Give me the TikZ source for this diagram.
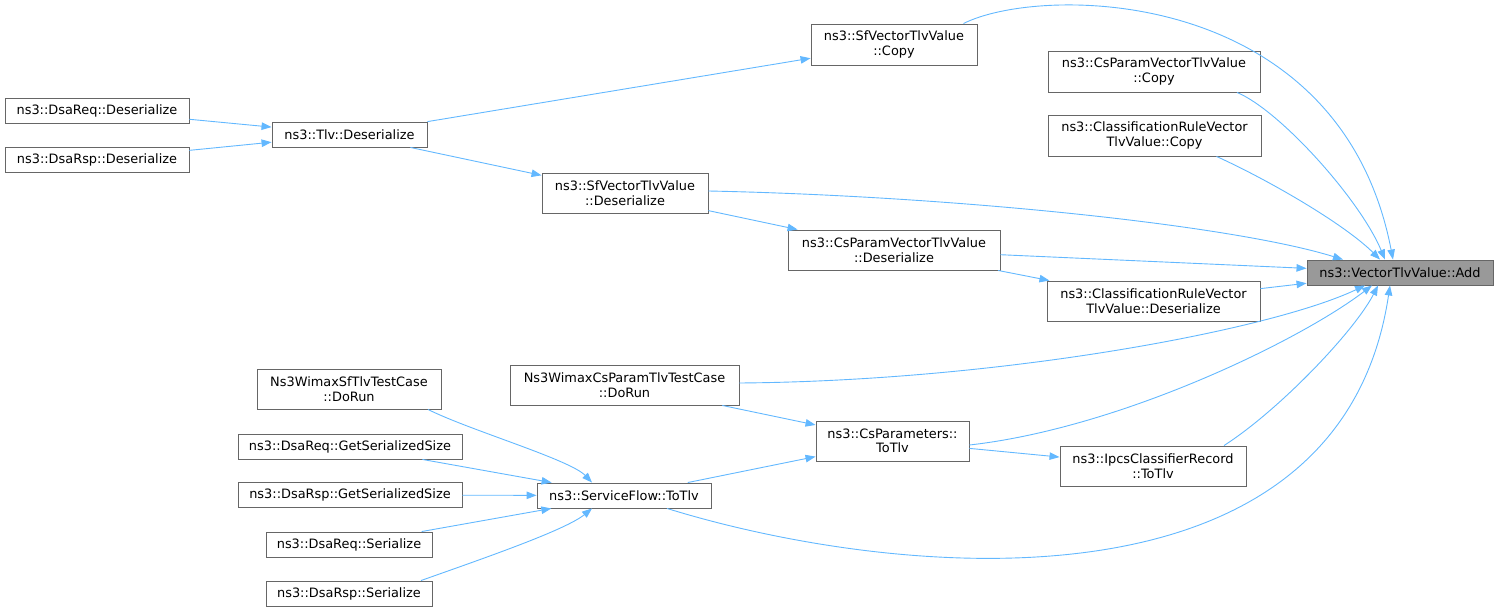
\documentclass[tikz,border=0pt]{standalone}
\usepackage{fontspec}
\setsansfont{DejaVu Sans}
\usepackage{tikz}
\usetikzlibrary{arrows.meta}
\definecolor{callblue}{RGB}{99,184,255}
\definecolor{framegray}{RGB}{102,102,102}
\definecolor{focusgray}{RGB}{153,153,153}
\tikzset{
  fn/.style={draw=framegray,line width=0.9pt,inner sep=0pt,align=center,
    font=\sffamily\fontsize{12.9}{14.5}\selectfont},
  one/.style={fn,minimum height=25pt},
  two/.style={fn,minimum height=40pt},
  call/.style={draw,color=callblue,line width=0.9pt,-{Triangle[length=10pt,width=7.5pt]}}
}

\begin{document}
\begin{tikzpicture}[x=1pt,y=-1pt]
  \useasboundingbox (0,0) rectangle (1497,612);
  % callers, left to right
  \node[one,minimum width=184pt] (reqdes) at (97,110.5) {ns3::DsaReq::Deserialize};
  \node[one,minimum width=184pt] (rspdes) at (97,159.5) {ns3::DsaRsp::Deserialize};
  \node[one,minimum width=155pt] (tlvdes) at (349.5,134.5) {ns3::Tlv::Deserialize};
  \node[two,minimum width=184pt] (sfrun) at (349,389) {Ns3WimaxSfTlvTestCase\\::DoRun};
  \node[one,minimum width=224pt] (reqsize) at (350,446.5) {ns3::DsaReq::GetSerializedSize};
  \node[one,minimum width=224pt] (rspsize) at (350,495) {ns3::DsaRsp::GetSerializedSize};
  \node[one,minimum width=166pt] (reqser) at (349,544.5) {ns3::DsaReq::Serialize};
  \node[one,minimum width=166pt] (rspser) at (349,593.5) {ns3::DsaRsp::Serialize};
  \node[two,minimum width=166pt] (sfdes) at (625,193) {ns3::SfVectorTlvValue\\::Deserialize};
  \node[two,minimum width=229pt] (csrun) at (624.5,385) {Ns3WimaxCsParamTlvTestCase\\::DoRun};
  \node[one,minimum width=174pt] (sftlv) at (624,495.5) {ns3::ServiceFlow::ToTlv};
  \node[two,minimum width=166pt,minimum height=41pt] (sfcopy) at (894,44.5) {ns3::SfVectorTlvValue\\::Copy};
  \node[two,minimum width=212pt] (csdes) at (894,250) {ns3::CsParamVectorTlvValue\\::Deserialize};
  \node[two,minimum width=153pt] (cstlv) at (892.5,441) {ns3::CsParameters::\\ToTlv};
  \node[two,minimum width=212pt,minimum height=41pt] (cscopy) at (1154,71.5) {ns3::CsParamVectorTlvValue\\::Copy};
  \node[two,minimum width=213pt,minimum height=41pt] (clcopy) at (1154.5,135.5) {ns3::ClassificationRuleVector\\TlvValue::Copy};
  \node[two,minimum width=213pt] (cldes) at (1153.5,301) {ns3::ClassificationRuleVector\\TlvValue::Deserialize};
  \node[two,minimum width=186pt] (ipcs) at (1153,466) {ns3::IpcsClassifierRecord\\::ToTlv};
  \node[one,minimum width=186pt,fill=focusgray] (add) at (1400,272.5) {ns3::VectorTlvValue::Add};

  % straight calls
  \path[call]
    (reqdes) edge (tlvdes)
    (rspdes) edge (tlvdes)
    (tlvdes) edge (sfcopy)
    (tlvdes) edge (sfdes)
    (sfdes) edge (csdes)
    (csdes) edge (cldes)
    (csdes) edge (add)
    (cldes) edge (add)
    (csrun) edge (cstlv)
    (sftlv) edge (cstlv)
    (cstlv) edge (ipcs)
    (reqsize) edge (sftlv)
    (rspsize) edge (sftlv)
    (reqser) edge (sftlv);

  % curved calls
  \draw[call] ([xshift=79pt]sfrun.south) .. controls +(42,21) and +(-22,-23) .. ([xshift=-32pt]sftlv.north);
  \draw[call] ([xshift=72pt]rspser.north) .. controls +(59,-21) and +(-27,22) .. ([xshift=-32pt]sftlv.south);
  \draw[call] ([xshift=-14pt]sfcopy.north east) .. controls +(77,-39) and +(-53,-275) .. ([xshift=-7pt]add.north);
  \draw[call] ([xshift=83pt]cscopy.south) .. controls +(43,18) and +(-25,-60) .. ([xshift=-15pt]add.north);
  \draw[call] ([xshift=62pt]clcopy.south) .. controls +(53,24) and +(-35,-35) .. ([xshift=-20pt]add.north);
  \draw[call] ([yshift=2pt]sfdes.east) .. controls +(242,5) and +(-113,-35) .. ([xshift=-57pt]add.north);
  \draw[call] ([yshift=2pt]csrun.east) .. controls +(260,-2) and +(-95,45) .. ([xshift=-35pt]add.south);
  \draw[call] ([yshift=-4pt]cstlv.east) .. controls +(151,-17) and +(-72,55) .. ([xshift=-28pt]add.south);
  \draw[call] ([xshift=71pt]ipcs.north) .. controls +(56,-36) and +(-23,45) .. ([xshift=-22pt]add.south);
  \draw[call] ([xshift=43pt]sftlv.south) .. controls +(233,72) and +(-50,335) .. ([xshift=-10pt]add.south);
\end{tikzpicture}
\end{document}
